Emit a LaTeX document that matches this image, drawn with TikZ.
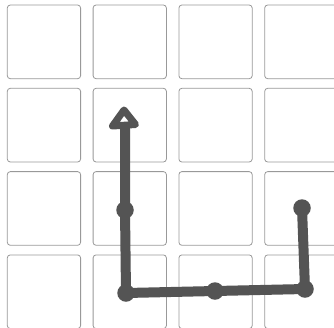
\documentclass[tikz,border=0pt]{standalone}
\begin{document}
\begin{tikzpicture}[x=1pt,y=-1pt,
  cell/.style={draw=black!40,line width=0.8pt,rounded corners=3pt,fill=white},
  pathline/.style={draw=black!67,line width=10pt,line cap=round,line join=round},
  headline/.style={draw=black!67,line width=7pt,line join=round,fill=white},
  dot/.style={circle,fill=black!67,minimum size=17.5pt,inner sep=0pt}]
\useasboundingbox (0,0) rectangle (334,327);
\foreach \i in {0,1,2,3}{
  \foreach \j in {0,1,2,3}{
    \draw[cell] ({7.3+85.8*\i},{5+83.3*\j}) rectangle ++(73.3,73.7);
  }
}
\coordinate (base) at (125,128);
\node[dot] (d1) at (125,210) {};
\node[dot] (d2) at (126,293) {};
\node[dot] (d3) at (215,291) {};
\node[dot] (d4) at (305,289) {};
\node[dot] (d5) at (302,208) {};
\draw[pathline] (base) -- (d1.center) -- (d2.center) -- (d3.center) -- (d4.center) -- (d5.center);
\coordinate (tip) at (124,110);
\coordinate (hl) at (112.5,126);
\coordinate (hr) at (135.5,124.5);
\draw[headline] (tip) -- (hl) -- (hr) -- cycle;
\end{tikzpicture}
\end{document}
